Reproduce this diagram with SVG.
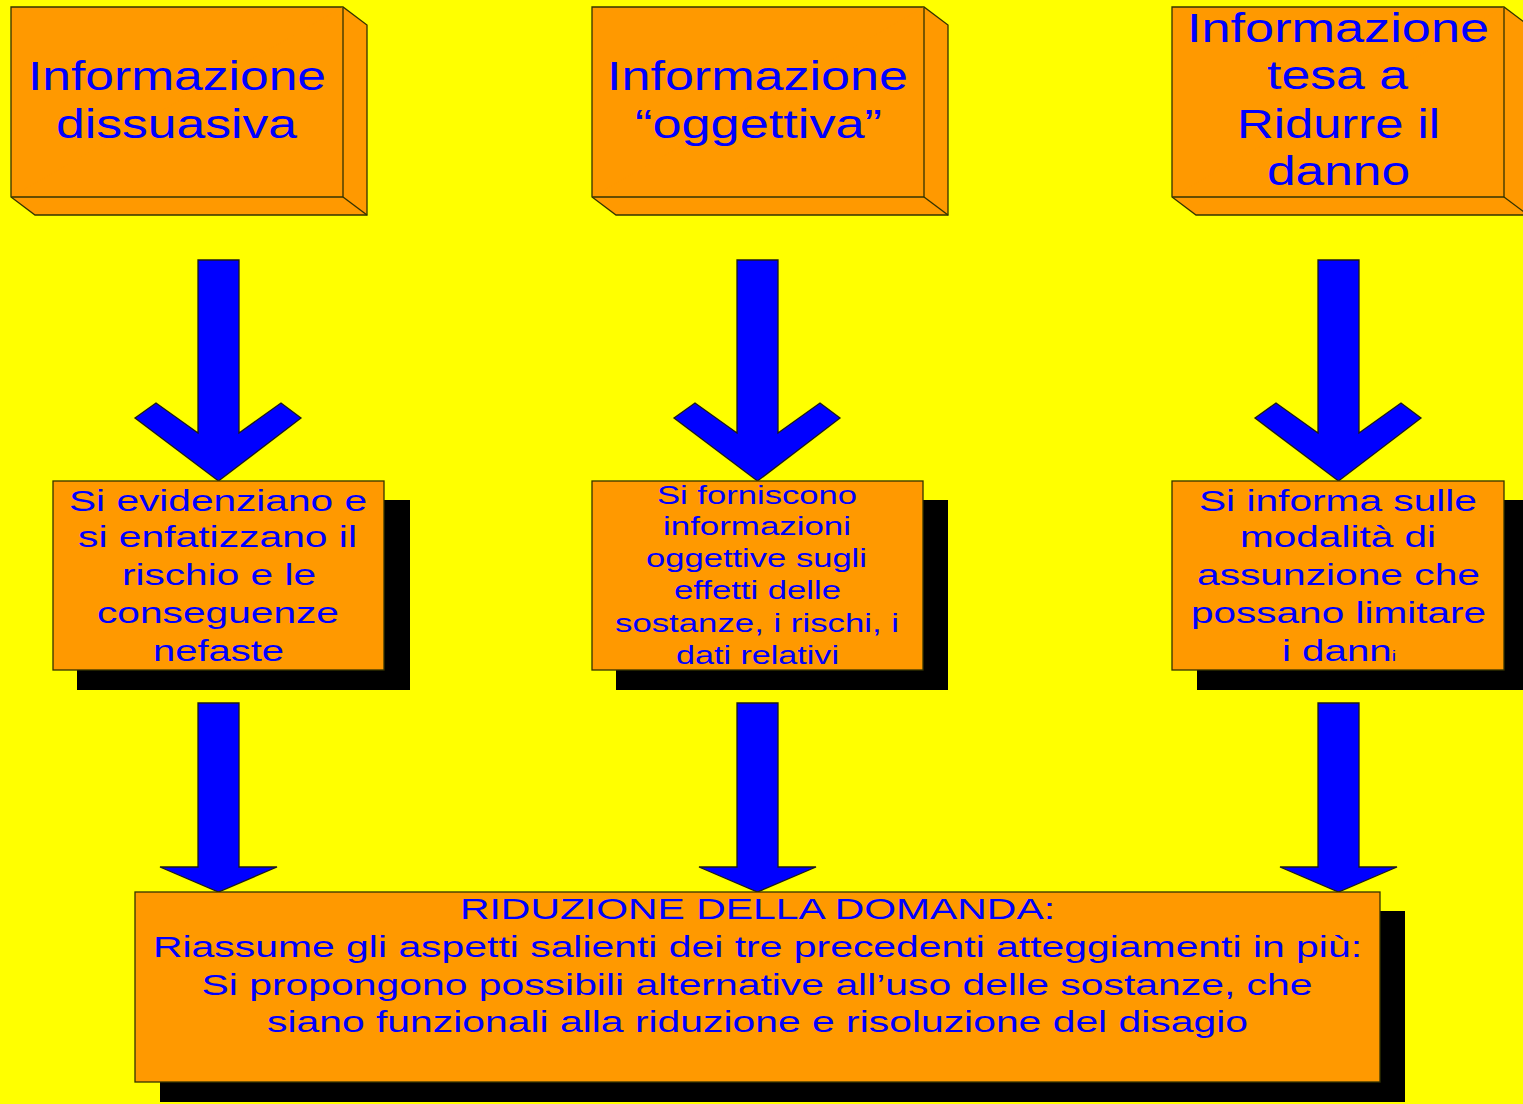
<svg xmlns="http://www.w3.org/2000/svg" width="1523" height="1104" viewBox="0 0 1523 1104">
<defs>
<style>
.bg{fill:#FFFF00}
.box{fill:#FF9900;stroke:#333300;stroke-width:1.3}
.sh{fill:#000000}
.arr{fill:#0000FF;stroke:#1a1a1a;stroke-width:1.3;stroke-linejoin:miter}
text{font-family:"Liberation Sans",Arial,sans-serif;fill:#0000FF;text-anchor:middle}
.t40{font-size:40px}
.t29{font-size:29px}
.t26{font-size:26px}
.t30{font-size:30px}
</style>
<polygon id="downArrow" class="arr" points="198,260 239,260 239,433 281,403 301,418 218.5,481 135,418 156,403 198,433"/>
<polygon id="blockArrow" class="arr" points="198,703 239,703 239,867 277,867 218.5,892 160,867 198,867"/>
</defs>
<rect class="bg" x="0" y="0" width="1523" height="1104"/>

<g id="connectors">
<use href="#downArrow"/>
<use href="#downArrow" transform="translate(539,0)"/>
<use href="#downArrow" transform="translate(1120,0)"/>
<use href="#blockArrow"/>
<use href="#blockArrow" transform="translate(539,0)"/>
<use href="#blockArrow" transform="translate(1120,0)"/>
</g>

<g id="node-dissuasiva">
<polygon class="box" points="11,7 343,7 367,25 367,215 35,215 11,197"/>
<polyline class="box" points="11,197 343,197 343,7" fill="none"/>
<line x1="343" y1="197" x2="367" y2="215" stroke="#333300" stroke-width="1.3"/>
<text class="t40" x="177" y="90" textLength="298" lengthAdjust="spacingAndGlyphs">Informazione</text>
<text class="t40" x="176.5" y="137.5" textLength="241" lengthAdjust="spacingAndGlyphs">dissuasiva</text>
</g>

<g id="node-oggettiva">
<polygon class="box" points="592,7 924,7 948,25 948,215 616,215 592,197"/>
<polyline class="box" points="592,197 924,197 924,7" fill="none"/>
<line x1="924" y1="197" x2="948" y2="215" stroke="#333300" stroke-width="1.3"/>
<text class="t40" x="757.5" y="90" textLength="301" lengthAdjust="spacingAndGlyphs">Informazione</text>
<text class="t40" x="758.5" y="137.5" textLength="247" lengthAdjust="spacingAndGlyphs">“oggettiva”</text>
</g>

<g id="node-ridurre">
<polygon class="box" points="1172,7 1504,7 1528,25 1528,215 1196,215 1172,197"/>
<polyline class="box" points="1172,197 1504,197 1504,7" fill="none"/>
<line x1="1504" y1="197" x2="1528" y2="215" stroke="#333300" stroke-width="1.3"/>
<text class="t40" x="1338" y="42" textLength="302" lengthAdjust="spacingAndGlyphs">Informazione</text>
<text class="t40" x="1337.5" y="89" textLength="141" lengthAdjust="spacingAndGlyphs">tesa a</text>
<text class="t40" x="1338.5" y="137.5" textLength="203" lengthAdjust="spacingAndGlyphs">Ridurre il</text>
<text class="t40" x="1338.5" y="185" textLength="143" lengthAdjust="spacingAndGlyphs">danno</text>
</g>

<g id="node-evidenziano">
<rect class="sh" x="77" y="500" width="333" height="190"/>
<rect class="box" x="53" y="481" width="331" height="189"/>
<text class="t29" x="218" y="510.7" textLength="298" lengthAdjust="spacingAndGlyphs">Si evidenziano e</text>
<text class="t29" x="217.5" y="547.3" textLength="279" lengthAdjust="spacingAndGlyphs">si enfatizzano il</text>
<text class="t29" x="219" y="585" textLength="194" lengthAdjust="spacingAndGlyphs">rischio e le</text>
<text class="t29" x="218" y="622.7" textLength="242" lengthAdjust="spacingAndGlyphs">conseguenze</text>
<text class="t29" x="218.5" y="660.7" textLength="131" lengthAdjust="spacingAndGlyphs">nefaste</text>
</g>

<g id="node-forniscono">
<rect class="sh" x="616" y="500" width="332" height="190"/>
<rect class="box" x="592" y="481" width="331" height="189"/>
<text class="t26" x="757" y="504.3" textLength="200" lengthAdjust="spacingAndGlyphs">Si forniscono</text>
<text class="t26" x="757" y="535" textLength="188" lengthAdjust="spacingAndGlyphs">informazioni</text>
<text class="t26" x="756.5" y="566.7" textLength="221" lengthAdjust="spacingAndGlyphs">oggettive sugli</text>
<text class="t26" x="757.5" y="599.3" textLength="167" lengthAdjust="spacingAndGlyphs">effetti delle</text>
<text class="t26" x="757" y="631.7" textLength="284" lengthAdjust="spacingAndGlyphs">sostanze, i rischi, i</text>
<text class="t26" x="757.5" y="664" textLength="163" lengthAdjust="spacingAndGlyphs">dati relativi</text>
</g>

<g id="node-informa">
<rect class="sh" x="1197" y="500" width="333" height="190"/>
<rect class="box" x="1172" y="481" width="332" height="189"/>
<text class="t29" x="1338" y="510.7" textLength="278" lengthAdjust="spacingAndGlyphs">Si informa sulle</text>
<text class="t29" x="1338" y="547" textLength="196" lengthAdjust="spacingAndGlyphs">modalità di</text>
<text class="t29" x="1338.5" y="585" textLength="283" lengthAdjust="spacingAndGlyphs">assunzione che</text>
<text class="t29" x="1338.5" y="622.7" textLength="295" lengthAdjust="spacingAndGlyphs">possano limitare</text>
<text class="t29" x="1339" y="660.7" textLength="114" lengthAdjust="spacingAndGlyphs">i dann<tspan style="font-size:14px">i</tspan></text>
</g>

<g id="node-riduzione">
<rect class="sh" x="160" y="911" width="1245" height="191"/>
<rect class="box" x="135" y="892" width="1245" height="190"/>
<text class="t30" x="757.5" y="919.3" textLength="595" lengthAdjust="spacingAndGlyphs">RIDUZIONE DELLA DOMANDA:</text>
<text class="t30" x="757.5" y="957.3" textLength="1209" lengthAdjust="spacingAndGlyphs">Riassume gli aspetti salienti dei tre precedenti atteggiamenti in più:</text>
<text class="t30" x="757" y="995" textLength="1111" lengthAdjust="spacingAndGlyphs">Si propongono possibili alternative all’uso delle sostanze, che</text>
<text class="t30" x="757.5" y="1032.3" textLength="981" lengthAdjust="spacingAndGlyphs">siano funzionali alla riduzione e risoluzione del disagio</text>
</g>
</svg>
